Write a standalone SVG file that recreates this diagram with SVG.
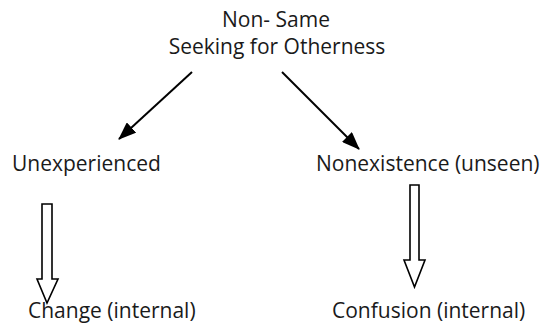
<svg xmlns="http://www.w3.org/2000/svg" width="542" height="324" viewBox="0 0 542 324">
<defs>
<style>
text{font-family:"Open Sans","Noto Sans","DejaVu Sans",sans-serif;font-size:21px;fill:#1a1a1a}
.c{stroke:#000;stroke-width:2;fill:none}
.b{stroke:#000;stroke-width:1.6;fill:#fff}
</style>
<marker id="ah" markerWidth="18" markerHeight="14" refX="17" refY="7" orient="auto" markerUnits="userSpaceOnUse" viewBox="0 0 18 14"><path d="M0,0 L18,7 L0,14 z" fill="#000"/></marker>
</defs>
<rect width="542" height="324" fill="#fff"/>
<g id="top"><text x="276" y="27" text-anchor="middle">Non- Same</text><text x="277" y="54" text-anchor="middle">Seeking for Otherness</text></g>
<g id="unexperienced"><text x="12" y="171">Unexperienced</text></g>
<g id="nonexistence"><text x="316" y="171">Nonexistence (unseen)</text></g>
<g id="change"><text x="28" y="318">Change (internal)</text></g>
<g id="confusion"><text x="332" y="318">Confusion (internal)</text></g>
<g id="connectors">
<line class="c" x1="192" y1="72" x2="119" y2="139" marker-end="url(#ah)"/>
<line class="c" x1="282" y1="72" x2="359" y2="149" marker-end="url(#ah)"/>
<path class="b" d="M42,204 H52 V279 H58 L47,303 L37,279 H42 Z"/>
<path class="b" d="M410,185 H419 V260 H425 L414.5,287 L404,260 H410 Z"/>
</g>
</svg>
